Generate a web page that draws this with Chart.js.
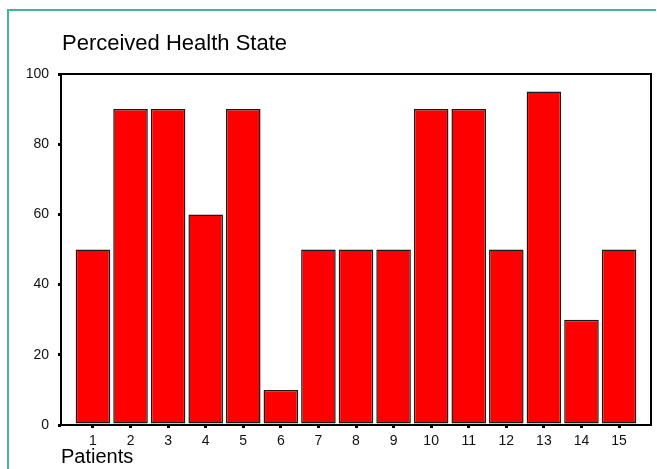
<!DOCTYPE html>
<html>
<head>
<meta charset="utf-8">
<script src="https://cdn.jsdelivr.net/npm/chart.js@4"></script>
<style>
  html, body { margin: 0; padding: 0; background: #fff; }
  #wrap { position: relative; width: 657px; height: 469px; }
  #frame { position: absolute; left: 7px; top: 9px; width: 649px; height: 460px;
           border-left: 2px solid #3fb5a0; border-top: 2px solid #3fb5a0; box-sizing: border-box; }
  canvas { position: absolute; left: 0; top: 0; }
</style>
</head>
<body>
<div id="wrap">
  <div id="frame"></div>
  <canvas id="c" width="657" height="469"></canvas>
</div>
<script>
const titleText = "Perceived Health State";
const xAxisTitle = "Patients";
const patients = [1, 2, 3, 4, 5, 6, 7, 8, 9, 10, 11, 12, 13, 14, 15];
const healthState = [50, 90, 90, 60, 90, 10, 50, 50, 50, 90, 90, 50, 95, 30, 50];
const yTicks = [0, 20, 40, 60, 80, 100];

const FONT = "'Liberation Sans', Arial, sans-serif";

const framePlugin = {
  id: 'framePlugin',
  afterDraw(chart) {
    const { ctx, chartArea: a } = chart;
    ctx.save();
    ctx.strokeStyle = '#000';
    ctx.lineWidth = 2;
    ctx.strokeRect(a.left, a.top, a.right - a.left, a.bottom - a.top);
    ctx.fillStyle = '#000';
    ctx.font = '22px ' + FONT;
    ctx.textBaseline = 'middle';
    ctx.textAlign = 'left';
    ctx.fillText(titleText, 62, 44);
    ctx.restore();
  }
};

new Chart(document.getElementById('c'), {
  type: 'bar',
  data: {
    datasets: [{
      data: patients.map((p, i) => ({ x: p, y: healthState[i] })),
      backgroundColor: '#ff0000',
      borderColor: '#1a1a1a',
      borderWidth: 1.5,
      borderSkipped: false,
      barPercentage: 0.92,
      categoryPercentage: 1.0
    }]
  },
  options: {
    responsive: false,
    animation: false,
    layout: { padding: { left: 0, top: 74, right: 6, bottom: 0 } },
    plugins: { legend: { display: false }, tooltip: { enabled: false }, title: { display: false } },
    scales: {
      x: {
        type: 'linear',
        min: 0.15,
        max: 15.85,
        offset: false,
        afterBuildTicks(scale) { scale.ticks = patients.map(v => ({ value: v })); },
        afterFit(scale) { scale.height = 44; },
        grid: { offset: false, drawOnChartArea: false, drawTicks: true, tickLength: 3, lineWidth: 3, color: '#000' },
        border: { display: false },
        ticks: { color: '#111', font: { family: FONT, size: 14 }, padding: 5, maxRotation: 0, autoSkip: false,
                 callback: (v) => String(v) },
        title: { display: true, text: xAxisTitle, align: 'start', color: '#000',
                 font: { family: FONT, size: 20 }, padding: { top: 0, bottom: 0 } }
      },
      y: {
        min: 0,
        max: 100,
        afterBuildTicks(scale) { scale.ticks = yTicks.map(v => ({ value: v })); },
        afterFit(scale) { scale.width = 61; },
        grid: { drawOnChartArea: false, drawTicks: true, tickLength: 3, lineWidth: 3, color: '#000' },
        border: { display: false },
        ticks: { color: '#111', font: { family: FONT, size: 14 }, padding: 9 }
      }
    }
  },
  plugins: [framePlugin]
});
</script>
</body>
</html>
